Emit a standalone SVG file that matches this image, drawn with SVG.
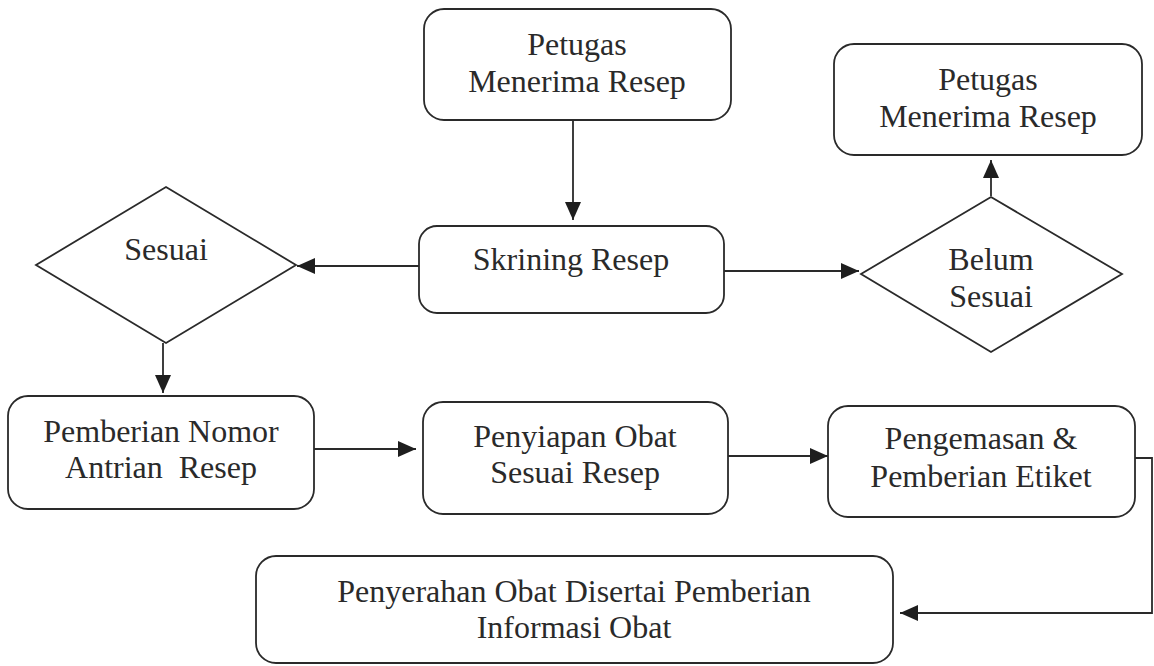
<svg xmlns="http://www.w3.org/2000/svg" width="1154" height="666" viewBox="0 0 1154 666">
<style>
.box{fill:#fff;stroke:#2a2a2a;stroke-width:1.8}
.t{font-family:"Liberation Serif","Times New Roman",serif;font-size:32px;fill:#2a2a2a;text-anchor:middle;white-space:pre}
.c{fill:none;stroke:#2a2a2a;stroke-width:1.8}
</style>
<defs>
<marker id="ah" viewBox="0 0 18 16" refX="18" refY="8" markerWidth="18" markerHeight="16" markerUnits="userSpaceOnUse" orient="auto">
<path d="M0,0 L18,8 L0,16 Z" fill="#1e1e1e"/>
</marker>
</defs>
<rect width="1154" height="666" fill="#fff"/>
<g id="connectors">
<line class="c" x1="573" y1="120" x2="573" y2="220" marker-end="url(#ah)"/>
<line class="c" x1="419" y1="266" x2="297" y2="266" marker-end="url(#ah)"/>
<line class="c" x1="724" y1="271" x2="859" y2="271" marker-end="url(#ah)"/>
<line class="c" x1="991" y1="196" x2="991" y2="160" marker-end="url(#ah)"/>
<line class="c" x1="163" y1="343" x2="163" y2="393" marker-end="url(#ah)"/>
<line class="c" x1="314" y1="449" x2="416" y2="449" marker-end="url(#ah)"/>
<line class="c" x1="728" y1="456" x2="828" y2="456" marker-end="url(#ah)"/>
<polyline class="c" points="1135,458 1152,458 1152,613 900,613" marker-end="url(#ah)"/>
</g>
<g id="n1">
<rect class="box" x="424" y="9" width="307" height="111" rx="20"/>
<text class="t" x="577" y="55">Petugas</text>
<text class="t" x="577" y="92">Menerima Resep</text>
</g>
<g id="n2">
<rect class="box" x="834" y="44" width="308" height="111" rx="20"/>
<text class="t" x="988" y="90">Petugas</text>
<text class="t" x="988" y="127">Menerima Resep</text>
</g>
<g id="n3">
<rect class="box" x="419" y="226" width="305" height="87" rx="18"/>
<text class="t" x="571" y="270">Skrining Resep</text>
</g>
<g id="n4">
<polygon class="box" points="166,187 296,265 166,343 36,265"/>
<text class="t" x="166" y="260">Sesuai</text>
</g>
<g id="n5">
<polygon class="box" points="991,197 1122,274 991,352 861,274"/>
<text class="t" x="991" y="270">Belum</text>
<text class="t" x="991" y="307">Sesuai</text>
</g>
<g id="n6">
<rect class="box" x="8" y="396" width="306" height="113" rx="20"/>
<text class="t" x="161" y="442">Pemberian Nomor</text>
<text class="t" x="161" y="478">Antrian  Resep</text>
</g>
<g id="n7">
<rect class="box" x="423" y="402" width="305" height="112" rx="20"/>
<text class="t" x="575" y="447">Penyiapan Obat</text>
<text class="t" x="575" y="483">Sesuai Resep</text>
</g>
<g id="n8">
<rect class="box" x="828" y="406" width="307" height="111" rx="20"/>
<text class="t" x="981" y="449">Pengemasan &amp;</text>
<text class="t" x="981" y="487">Pemberian Etiket</text>
</g>
<g id="n9">
<rect class="box" x="256" y="556" width="637" height="107" rx="20"/>
<text class="t" x="574" y="602">Penyerahan Obat Disertai Pemberian</text>
<text class="t" x="574" y="638">Informasi Obat</text>
</g>
</svg>
